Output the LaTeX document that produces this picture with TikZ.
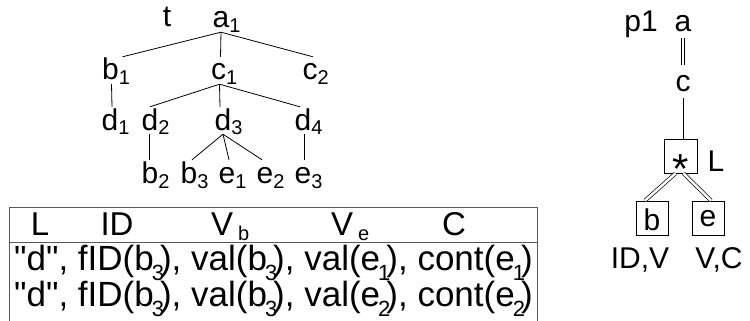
\documentclass[tikz,border=0pt]{standalone}
\usepackage{fontspec}
\setmainfont{Liberation Sans}
\newfontfamily\plainsans{Liberation Sans}
\newcommand{\tsub}[1]{\rlap{\raisebox{-5pt}{\fontsize{20}{20}\selectfont #1}}}
\newcommand{\hsub}[1]{\raisebox{-5pt}{\fontsize{20}{20}\selectfont #1}}
\newcommand{\rsub}[1]{\kern-2pt\raisebox{-10pt}{\fontsize{22}{22}\selectfont #1}\kern-4pt}
\tikzset{
  lbl/.style={inner sep=0pt, anchor=base, font=\fontsize{30}{36}\selectfont, text height=23pt, text depth=4pt},
  hdr/.style={inner sep=0pt, anchor=base, font=\fontsize{33}{38}\selectfont},
  rowtxt/.style={inner sep=0pt, anchor=base west, font=\plainsans\fontsize{35}{38}\selectfont},
  edge/.style={line width=0.8pt},
  dbl/.style={double, double distance=2.5pt, line width=0.7pt},
  box/.style={draw, line width=0.8pt, inner sep=0pt, font=\fontsize{30}{36}\selectfont},
  tab/.style={draw=black!65, line width=0.9pt}
}
\begin{document}
\begin{tikzpicture}[x=1pt,y=-1pt]
\useasboundingbox (0,0) rectangle (750,321);
% tree t
\node[lbl] (t) at (167,27) {t};
\node[lbl] (a1) at (221,28) {a\tsub{1}};
\node[lbl] (b1) at (110.5,80) {b\tsub{1}};
\node[lbl] (c1) at (218.5,80) {c\tsub{1}};
\node[lbl] (c2) at (310,80) {c\tsub{2}};
\node[lbl] (d1) at (110,130) {d\tsub{1}};
\node[lbl] (d2) at (150,130) {d\tsub{2}};
\node[lbl] (d3) at (223,130) {d\tsub{3}};
\node[lbl] (d4) at (303,130) {d\tsub{4}};
\node[lbl] (b2) at (150,183) {b\tsub{2}};
\node[lbl] (b3) at (189,183) {b\tsub{3}};
\node[lbl] (e1) at (227,183) {e\tsub{1}};
\node[lbl] (e2) at (265,183) {e\tsub{2}};
\node[lbl] (e3) at (303,183) {e\tsub{3}};
\draw[edge] (a1.south) -- ([xshift=12pt]b1.north);
\draw[edge] (a1.south) -- ([xshift=2pt]c1.north);
\draw[edge] (a1.south) -- ([xshift=3pt]c2.north);
\draw[edge] ([xshift=1pt]b1.south) -- ([xshift=2pt]d1.north);
\draw[edge] ([xshift=1pt]c1.south) -- (d2.north);
\draw[edge] ([xshift=1pt]c1.south) -- ([xshift=-3pt]d3.north);
\draw[edge] ([xshift=1pt]c1.south) -- ([xshift=-3pt]d4.north);
\draw[edge] ([xshift=-1pt]d2.south) -- ([xshift=-1pt]b2.north);
\draw[edge] (d3.south) -- ([xshift=3pt]b3.north);
\draw[edge] (d3.south) -- ([xshift=2pt]e1.north);
\draw[edge] (d3.south) -- ([xshift=-3pt]e2.north);
\draw[edge] ([xshift=1pt]d4.south) -- ([xshift=1pt]e3.north);
% table
\coordinate (tbl) at (9,321);
\coordinate (tbtl) at (9,207);
\coordinate (tbtr) at (537,207);
\coordinate (tbr) at (537,321);
\coordinate (tml) at (9,242);
\coordinate (tmr) at (537,242);
\draw[tab] (tbl) -- (tbtl) -- (tbtr) -- (tbr);
\draw[tab] (tml) -- (tmr);
\node[hdr] (hL) at (40,235) {L};
\node[hdr] (hID) at (117,235) {ID};
\node[hdr, anchor=base west] (hVb) at (211,235) {V\kern5pt\hsub{b}};
\node[hdr, anchor=base west] (hVe) at (331,235) {V\kern5pt\hsub{e}};
\node[hdr] (hC) at (454,235) {C};
\node[rowtxt] (r1) at (14,270) {"d", fID(b\rsub{3}), val(b\rsub{3}), val(e\rsub{1}), cont(e\rsub{1})};
\node[rowtxt] (r2) at (14,306) {"d", fID(b\rsub{3}), val(b\rsub{3}), val(e\rsub{2}), cont(e\rsub{2})};
% pattern p1
\node[lbl] (p1) at (641,32) {p1};
\node[lbl] (pa) at (683,32) {a};
\node[lbl] (pc) at (683,92) {c};
\node[box, minimum width=33pt, minimum height=34pt] (star) at (680.5,156) {\smash{\raisebox{-28pt}{\fontsize{42}{42}\selectfont *}}};
\node[lbl] (pL) at (716,171) {L};
\node[box, minimum width=32pt, minimum height=34pt, text height=24pt, text depth=0pt] (bb) at (652,218) {b};
\node[box, minimum width=32pt, minimum height=34pt, text height=16pt, text depth=0pt] (ee) at (708,218) {e};
\node[lbl] (idv) at (640,268) {ID,V};
\node[lbl] (vc) at (719,268) {V,C};
\draw[dbl] ([yshift=-2pt]pa.south) -- ([yshift=4pt]pc.north);
\draw[edge] ([yshift=-2pt]pc.south) -- (pc.south |- star.north);
\draw[dbl] ([xshift=-5pt]star.south) -- ([xshift=-7pt]bb.north);
\draw[dbl] ([xshift=3pt]star.south) -- ([xshift=3pt]ee.north);
\end{tikzpicture}
\end{document}
